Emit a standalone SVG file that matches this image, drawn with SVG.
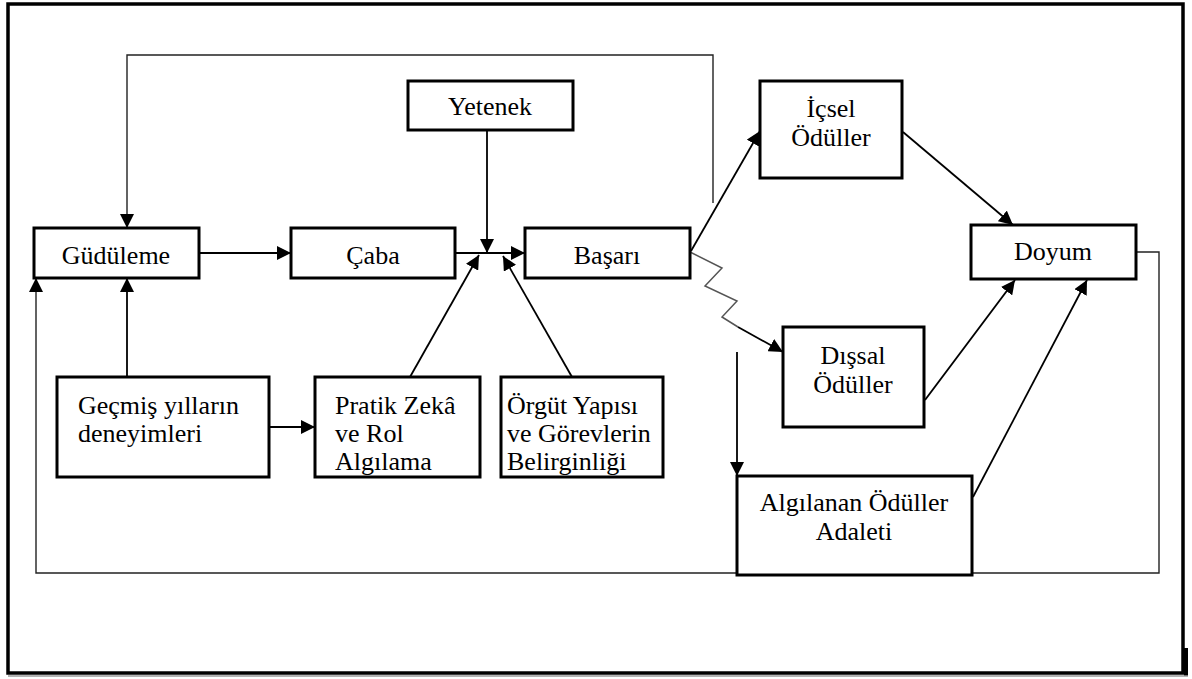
<svg xmlns="http://www.w3.org/2000/svg" width="1192" height="679" viewBox="0 0 1192 679">
  <style>
    .box { fill: #ffffff; stroke: #000000; stroke-width: 3; }
    .lbl { font-family: 'Liberation Serif', 'Times New Roman', 'DejaVu Serif', serif; font-size: 26px; fill: #000000; }
    .c { text-anchor: middle; }
    .edge { fill: none; stroke: #000000; stroke-width: 1.8; }
    .loop { fill: none; stroke: #222222; stroke-width: 1.4; }
    .zig { fill: none; stroke: #555555; stroke-width: 1.5; stroke-linejoin: miter; }
  </style>
  <defs>
    <marker id="arrow" markerUnits="userSpaceOnUse" markerWidth="14" markerHeight="14" refX="14" refY="7" orient="auto">
      <path d="M0,0 L14,7 L0,14 z" fill="#000000"/>
    </marker>
  </defs>

  <rect width="1192" height="679" fill="#ffffff"/>

  <!-- outer frame -->
  <g id="frame">
    <rect x="8" y="4" width="1175" height="669" fill="none" stroke="#000000" stroke-width="3.5"/>
    <line x1="1186" y1="648" x2="1186" y2="676" stroke="#000000" stroke-width="4"/>
    <line x1="8" y1="676" x2="1188" y2="676" stroke="#999999" stroke-width="1.5"/>
  </g>

  <!-- connectors -->
  <g id="connectors">
    <!-- feedback from performance back to motivation -->
    <path class="loop" d="M713,203 V55 H127 V228" marker-end="url(#arrow)"/>
    <!-- feedback from satisfaction back to motivation -->
    <path class="loop" d="M1136,252 H1159 V573 H36 V278" marker-end="url(#arrow)"/>

    <line class="edge" x1="199" y1="253" x2="291" y2="253" marker-end="url(#arrow)"/>
    <line class="edge" x1="455" y1="253" x2="525" y2="253" marker-end="url(#arrow)"/>
    <line class="edge" x1="487" y1="130" x2="487" y2="253" marker-end="url(#arrow)"/>
    <line class="edge" x1="410" y1="377" x2="479" y2="255" marker-end="url(#arrow)"/>
    <line class="edge" x1="572" y1="377" x2="503" y2="256" marker-end="url(#arrow)"/>
    <line class="edge" x1="127" y1="377" x2="127" y2="278" marker-end="url(#arrow)"/>
    <line class="edge" x1="269" y1="427" x2="315" y2="427" marker-end="url(#arrow)"/>

    <line class="edge" x1="691" y1="251" x2="760" y2="131" marker-end="url(#arrow)"/>
    <polyline class="zig" points="690,252 722,268 705,286 737,301 722,317 738,327"/>
    <line class="edge" x1="738" y1="327" x2="783" y2="352" marker-end="url(#arrow)"/>
    <line class="edge" x1="737" y1="352" x2="737" y2="476" marker-end="url(#arrow)"/>

    <line class="edge" x1="903" y1="132" x2="1013" y2="225" marker-end="url(#arrow)"/>
    <line class="edge" x1="925" y1="400" x2="1015" y2="280" marker-end="url(#arrow)"/>
    <line class="edge" x1="973" y1="497" x2="1087" y2="280" marker-end="url(#arrow)"/>
  </g>

  <!-- nodes -->
  <g id="guduleme">
    <rect class="box" x="34" y="228" width="165" height="50"/>
    <text class="lbl c" x="116" y="264" font-family="Liberation Serif, serif">Güdüleme</text>
  </g>
  <g id="caba">
    <rect class="box" x="291" y="228" width="164" height="50"/>
    <text class="lbl c" x="373" y="264" font-family="Liberation Serif, serif">Çaba</text>
  </g>
  <g id="basari">
    <rect class="box" x="525" y="228" width="165" height="50"/>
    <text class="lbl c" x="607" y="264" font-family="Liberation Serif, serif">Başarı</text>
  </g>
  <g id="yetenek">
    <rect class="box" x="408" y="81" width="165" height="49"/>
    <text class="lbl c" x="490" y="115" font-family="Liberation Serif, serif">Yetenek</text>
  </g>
  <g id="icsel">
    <rect class="box" x="760" y="81" width="142" height="97"/>
    <text class="lbl c" x="831" y="117" font-family="Liberation Serif, serif">İçsel</text>
    <text class="lbl c" x="831" y="146" font-family="Liberation Serif, serif">Ödüller</text>
  </g>
  <g id="doyum">
    <rect class="box" x="971" y="225" width="165" height="54"/>
    <text class="lbl c" x="1053" y="260" font-family="Liberation Serif, serif">Doyum</text>
  </g>
  <g id="dissal">
    <rect class="box" x="783" y="327" width="141" height="100"/>
    <text class="lbl c" x="853" y="364" font-family="Liberation Serif, serif">Dışsal</text>
    <text class="lbl c" x="853" y="393" font-family="Liberation Serif, serif">Ödüller</text>
  </g>
  <g id="adalet">
    <rect class="box" x="737" y="476" width="235" height="99"/>
    <text class="lbl c" x="854" y="511" font-family="Liberation Serif, serif">Algılanan Ödüller</text>
    <text class="lbl c" x="854" y="540" font-family="Liberation Serif, serif">Adaleti</text>
  </g>
  <g id="gecmis">
    <rect class="box" x="57" y="377" width="212" height="100"/>
    <text class="lbl" x="78" y="414" font-family="Liberation Serif, serif">Geçmiş yılların</text>
    <text class="lbl" x="78" y="442" font-family="Liberation Serif, serif">deneyimleri</text>
  </g>
  <g id="pratik">
    <rect class="box" x="315" y="377" width="165" height="100"/>
    <text class="lbl" x="335" y="414" font-family="Liberation Serif, serif">Pratik Zekâ</text>
    <text class="lbl" x="335" y="442" font-family="Liberation Serif, serif">ve Rol</text>
    <text class="lbl" x="335" y="470" font-family="Liberation Serif, serif">Algılama</text>
  </g>
  <g id="orgut">
    <rect class="box" x="501" y="377" width="162" height="100"/>
    <text class="lbl" x="507" y="414" font-family="Liberation Serif, serif">Örgüt Yapısı</text>
    <text class="lbl" x="507" y="442" font-family="Liberation Serif, serif">ve Görevlerin</text>
    <text class="lbl" x="507" y="470" font-family="Liberation Serif, serif">Belirginliği</text>
  </g>
</svg>
